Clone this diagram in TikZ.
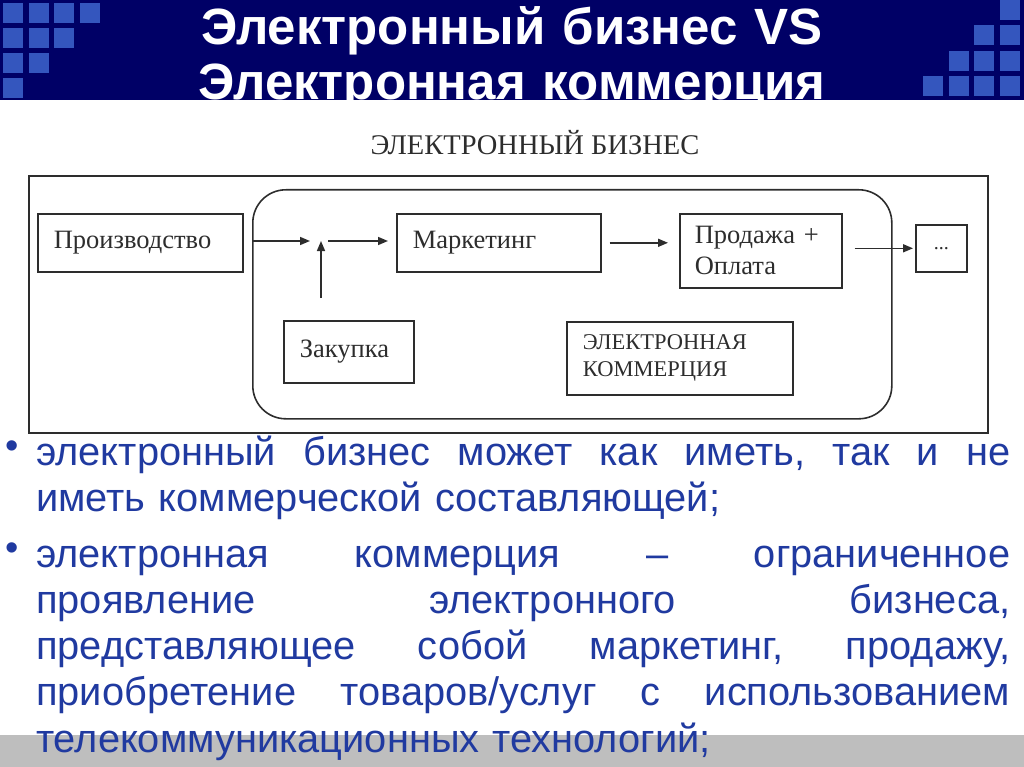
\documentclass[tikz,border=0pt]{standalone}
\usepackage{fontspec}
\setmainfont{Liberation Serif}
\setsansfont{Liberation Sans}
\usetikzlibrary{positioning,arrows.meta}

\definecolor{navy}{RGB}{0,0,102}
\definecolor{tile}{RGB}{52,86,190}
\definecolor{textblue}{RGB}{32,58,160}
\definecolor{scan}{RGB}{45,45,45}
\definecolor{footgray}{RGB}{190,190,190}

\newcommand{\ttlfont}{\sffamily\bfseries\fontsize{51}{55}\selectfont}
\newcommand{\btxt}{\sffamily\fontsize{39.8}{46.3}\selectfont}
\newcommand{\dfont}{\rmfamily\fontsize{26.5}{31}\selectfont}
\newcommand{\efont}{\rmfamily\fontsize{22.5}{27}\selectfont}
% one justified line of the bullet text
\newcommand{\jline}[1]{\leavevmode\hbox to 974pt{\frenchspacing\spaceskip=0.278em plus 1fil\relax #1}}

\tikzset{
  box/.style={draw=scan, line width=1.6pt, rectangle, inner ysep=0pt,
    anchor=north west, align=left, font=\dfont, text=scan},
  frame/.style={draw=scan, line width=1.6pt, inner sep=0pt, anchor=north west},
  arr/.style={draw=scan, line width=1.6pt, -{Triangle[length=10pt,width=8pt]}},
  bul/.style={text width=974pt, align=left, inner sep=0pt, anchor=base west,
    font=\btxt, text=textblue},
  dot/.style={inner sep=0pt, font=\sffamily\fontsize{38}{38}\selectfont, text=textblue}
}

\begin{document}
\begin{tikzpicture}[x=1pt,y=-1pt]
\useasboundingbox (0,0) rectangle (1024,767);

% header
\fill[navy] (0,0) rectangle (1024,100);
\foreach \col/\row in {0/0,1/0,2/0,3/0,0/1,1/1,2/1,0/2,1/2,0/3}
  \fill[tile] (3+25.7*\col,3+25*\row) rectangle ++(20,20);
\foreach \col/\row in {3/0,2/1,3/1,1/2,2/2,3/2,0/3,1/3,2/3,3/3}
  \fill[tile] (923+25.7*\col,25.3*\row) rectangle ++(20,20);
\begin{scope}
  \clip (0,0) rectangle (1024,100);
  \node[anchor=base, text width=1000pt, align=center, inner sep=0pt,
    font=\ttlfont, text=white] (title) at (512,45)
    {Электронный бизнес VS\\Электронная коммерция};
\end{scope}

% footer band
\fill[footgray] (0,735) rectangle (1024,767);

% diagram
\node[anchor=base, inner sep=0pt, font=\rmfamily\fontsize{28.5}{32}\selectfont, text=scan]
  (bizlabel) at (535,155) {ЭЛЕКТРОННЫЙ БИЗНЕС};
\node[frame, minimum width=959pt, minimum height=257pt] (biz) at (28,175) {};
\node[frame, rounded corners=33pt, minimum width=639pt, minimum height=229pt] (com) at (252,189) {};

\node[box, text width=173pt, inner xsep=16pt, minimum height=58pt] (prod) at (37,213) {Производство};
\node[box, text width=172pt, inner xsep=16pt, minimum height=58pt] (mark) at (396,213) {Маркетинг};
\node[box, text width=132pt, inner xsep=15pt, minimum height=74pt] (sale) at (679,213) {Продажа +\\Оплата};
\node[box, inner sep=0pt, minimum width=51pt, minimum height=47pt, align=center,
  font=\rmfamily\fontsize{20}{20}\selectfont] (dots) at (915,224) {...};
\node[box, text width=98pt, inner xsep=16pt, minimum height=62pt] (zak) at (283,320) {Закупка};
\node[box, text width=194pt, inner xsep=16pt, minimum height=73pt, font=\efont] (comlabel) at (566,321) {ЭЛЕКТРОННАЯ\\КОММЕРЦИЯ};

\coordinate (jn) at (321,241);
\draw[arr, shorten >=11pt] (com.west |- jn) -- (jn);
\draw[arr, shorten <=22pt] (zak.north -| jn) -- (jn);
\draw[arr, shorten <=7pt, shorten >=8pt] (jn) -- (mark.west |- jn);
\draw[arr, shorten <=8pt, shorten >=11pt] (mark.east) -- (mark.east -| sale.west);
\draw[arr, shorten <=12pt, shorten >=2pt] (sale.east |- dots.west) -- (dots.west);

% bullets
\node[dot] (d1) at (12,450) {•};
\node[bul] (p1) at (36,465)
  {\jline{электронный бизнес может как иметь, так и не}\\
   иметь коммерческой составляющей;};
\node[dot] (d2) at (12,552) {•};
\node[bul] (p2) at (36,567)
  {\jline{электронная коммерция – ограниченное}\\
   \jline{проявление электронного бизнеса,}\\
   \jline{представляющее собой маркетинг, продажу,}\\
   \jline{приобретение товаров/услуг с использованием}\\
   телекоммуникационных технологий;};
\end{tikzpicture}
\end{document}
